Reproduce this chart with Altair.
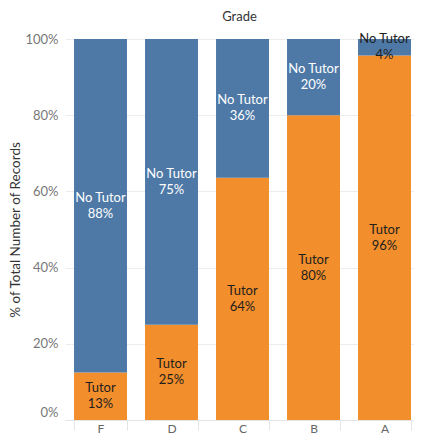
import altair as alt
import pandas as pd

FONT = "Lato"

grades = ["F", "D", "C", "B", "A"]
tutor_pct = [12.5, 25.0, 63.6, 80.0, 95.7]
no_tutor_pct = [87.5, 75.0, 36.4, 20.0, 4.3]
statuses = ["Tutor", "No Tutor"]
colors = ["#f28e2b", "#4e79a7"]
y_ticks = [0, 0.2, 0.4, 0.6, 0.8, 1.0]

rows = []
for g, t, n in zip(grades, tutor_pct, no_tutor_pct):
    total = t + n
    rows.append(dict(grade=g, status="Tutor", value=t, ord=0,
                     share=t / total, mid=(t / 2) / total))
    rows.append(dict(grade=g, status="No Tutor", value=n, ord=1,
                     share=n / total, mid=(t + n / 2) / total))
df = pd.DataFrame(rows)

base = alt.Chart(df)

xscale = alt.Scale(paddingInner=0.254, paddingOuter=0.0847, align=0.75)

xenc = alt.X(
    "grade:N", sort=grades, scale=xscale,
    axis=alt.Axis(title=None, labelColor="#666666", labelFontSize=12, labelFont=FONT,
                  labelAngle=0, labelPadding=-7, tickBand="extent", tickColor="#e4e4e4",
                  tickSize=10, domainColor="#e4e4e4"),
)

bars = base.mark_bar().encode(
    x=xenc,
    y=alt.Y(
        "value:Q", stack="normalize", scale=alt.Scale(domain=[0, 1]),
        axis=alt.Axis(title="% of Total Number of Records", titleFont=FONT, titleFontSize=13.5,
                      titleFontWeight="normal", titleColor="#333333", titlePadding=2,
                      labelColor="#777777", labelFont=FONT, labelFontSize=13, labelPadding=7,
                      values=y_ticks, format=".0%", ticks=False, domain=False,
                      gridColor="#ececec",
                      labelOffset={"expr": "datum.value === 0 ? -8 : 0"}),
    ),
    color=alt.Color("status:N", scale=alt.Scale(domain=statuses, range=colors), legend=None),
    order=alt.Order("ord:Q", sort="ascending"),
)

labels = base.transform_calculate(
    label="datum.status + '\\n' + format(datum.share, '.0%')"
).mark_text(lineBreak="\n", fontSize=13, lineHeight=16, dy=-8, font=FONT).encode(
    x=alt.X("grade:N", sort=grades, scale=xscale),
    y=alt.Y("mid:Q", scale=alt.Scale(domain=[0, 1])),
    text="label:N",
    color=alt.condition("datum.status == 'Tutor' || datum.share < 0.1",
                        alt.value("#1e1e1e"), alt.value("#ffffff")),
)

chart = alt.layer(bars, labels).properties(
    width=349, height=381,
    title=alt.TitleParams("Grade", font=FONT, fontSize=13, fontWeight="normal",
                          color="#333333", anchor="middle", offset=9),
    autosize=alt.AutoSizeParams(type="none"),
    padding={"left": 57, "top": 31, "right": 0, "bottom": 15},
).configure_view(stroke=None)

chart.save("out.html", embed_options={"renderer": "svg", "actions": False})
